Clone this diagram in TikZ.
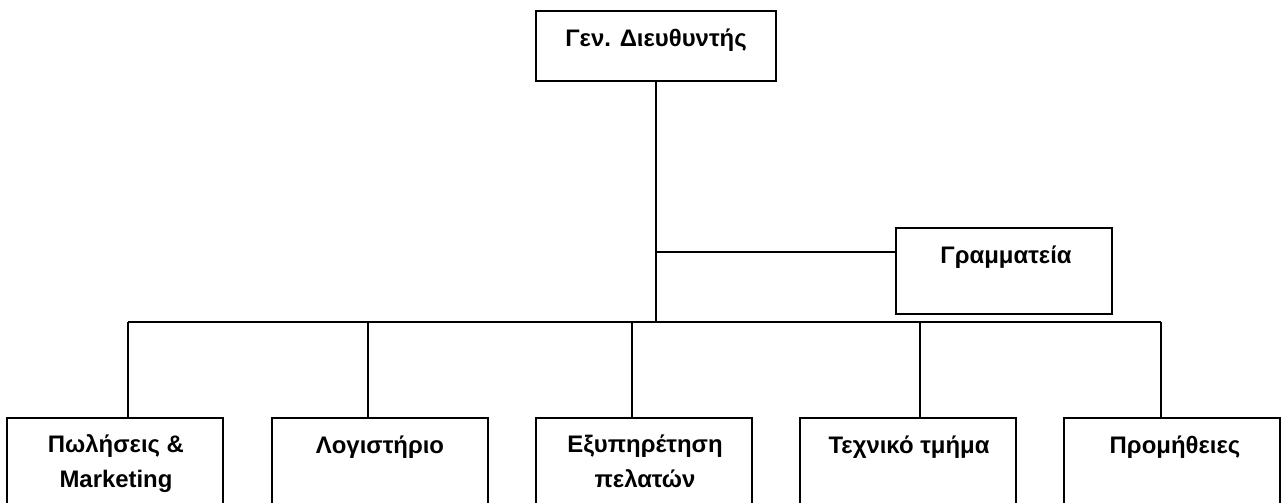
\documentclass[tikz,border=0pt]{standalone}
\usepackage{fontspec}
\setmainfont{Liberation Sans}

\begin{document}
\begin{tikzpicture}[
  x=0.025cm, y=-0.025cm,
  box/.style={draw, line width=1.1pt, minimum width=5.4cm,
              minimum height=2.5cm, inner sep=0pt},
  txt/.style={anchor=base, align=center, inner sep=0pt,
              font=\fontsize{17}{24.2}\selectfont\bfseries},
  conn/.style={line width=1.1pt}
]
\useasboundingbox[fill=white] (0,0) rectangle (1281,502);

\node[box, minimum width=6cm, minimum height=1.75cm] (gd) at (656,46) {};
\node[box, minimum height=2.15cm] (gram)  at (1004,271) {};
\node[box]                        (sales) at (115,468)  {};
\node[box]                        (acc)   at (380,468)  {};
\node[box]                        (cust)  at (644,468)  {};
\node[box]                        (tech)  at (908,468)  {};
\node[box]                        (sup)   at (1172,468) {};

\node[txt] (gdt)    at (656,46)   {Γεν. Διευθυντής};
\node[txt] (gramt)  at (1006,263) {Γραμματεία};
\node[txt] (salest) at (116,487)  {Πωλήσεις \&\\Marketing};
\node[txt] (acct)   at (380,453)  {Λογιστήριο};
\node[txt] (custt)  at (645,487)  {Εξυπηρέτηση\\πελατών};
\node[txt] (techt)  at (909,453)  {Τεχνικό τμήμα};
\node[txt] (supt)   at (1175,453) {Προμήθειες};

\coordinate (hub)  at (656,322);
\coordinate (tap)  at (656,252);
\coordinate (busl) at (128,322);
\coordinate (busr) at (1161,322);

\draw[conn] (gd.south) -- (gd.south |- hub);
\draw[conn] (tap) -- (tap -| gram.west);
\draw[conn] (busl) -- (busr);
\foreach \n/\x in {sales/128, acc/368, cust/632, tech/920, sup/1161}{
  \coordinate (d\n) at (\x,322);
  \draw[conn] (d\n) -- (d\n |- \n.north);
}
\end{tikzpicture}
\end{document}
